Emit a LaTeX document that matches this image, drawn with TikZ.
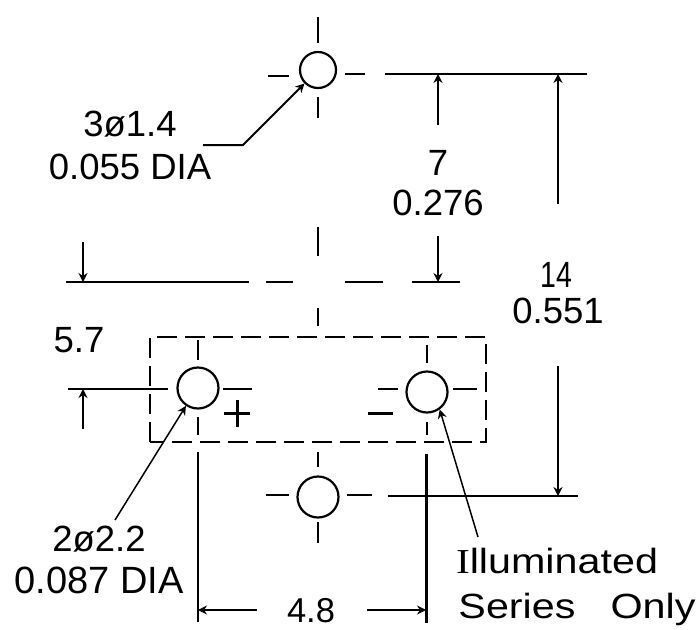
\documentclass[tikz,border=0pt]{standalone}
\usepackage{fontspec}
\setmainfont{Liberation Sans}
\newfontfamily\noteI{Liberation Serif}
\usetikzlibrary{arrows.meta}
\tikzset{
	hole/.style={draw,circle,line width=2.2pt,inner sep=0pt,minimum size=#1},
	label/.style={inner sep=0pt,font=\fontsize{#1}{#1}\selectfont},
	label/.default=36.5,
	note/.style={label=35,xscale=1.18,anchor=base},
	cen/.style={line width=2pt},
	dim/.style={line width=1.5pt,->},
}
\begin{document}
\begin{tikzpicture}[>={Stealth[length=9pt,width=9pt]},x=1pt,y=-1pt]
		\useasboundingbox (0,0) rectangle (698,629);
		% holes
		\node[hole=36pt] (holeTop) at (318,70) {};
		\node[hole=41pt] (holeLeft) at (198,388) {};
		\node[hole=41pt] (holeRight) at (427,392) {};
		\node[hole=41pt] (holeBottom) at (318,497) {};
		% centre marks
		\draw[cen] (318,17)--(318,43) (318,97)--(318,118) (268,76)--(289,76) (345,74)--(365,74);
		\draw[cen] (318,227)--(318,256) (318,308)--(318,326);
		\draw[cen] (198,340)--(198,360) (198,417)--(198,435) (223,389)--(252,389);
		\draw[cen] (427,345)--(427,363) (427,422)--(427,435) (378,389)--(398,389) (453,389)--(477,389);
		\draw[cen] (318,452)--(318,467) (318,522)--(318,543) (266,495)--(289,495) (347,495)--(372,495);
		% outline
		\draw[line width=2.4pt,dash pattern=on 20pt off 8pt] (150,442) -- (150,337) -- (486,337) -- (486,442) -- cycle;
		% extension lines
		\draw[cen] (385,74)--(587,74);
		\draw[cen] (66,282)--(249,282) (266,282)--(293,282) (345,282)--(383,282) (412,282)--(460,282);
		\draw[cen] (68,389)--(168,389);
		\draw[cen] (388,496)--(578,496);
		\draw[cen] (198,452)--(198,622);
		\draw[line width=3pt] (426,454)--(426,623);
		% dimensions
		\draw[dim] (83,242)--(83,282);
		\draw[dim] (83,429)--(83,389);
		\draw[dim] (438,125)--(438,74);
		\draw[dim] (438,236)--(438,282);
		\draw[dim] (558,204)--(558,74);
		\draw[dim] (558,366)--(558,496);
		\draw[dim] (257,610)--(198,610);
		\draw[dim] (367,610)--(426,610);
		% leaders
		\coordinate (elbowTop) at (243,145);
		\coordinate (tailTop) at (203,145);
		\coordinate (tailLeft) at (115,520);
		\coordinate (tailRight) at (478,537);
		\draw[line width=2pt,->] (tailTop) -- (elbowTop) -- (holeTop.south west);
		\draw[dim] (tailLeft) -- (holeLeft.236);
		\draw[dim] (tailRight) -- (holeRight.-54);
		% polarity
		\draw[line width=3pt] (224,413)--(250,413) (237,400)--(237,427);
		\draw[line width=3pt] (368,413)--(393,413);
		% text
		\node[label] (diaTop) at (130,124) {3ø1.4};
		\node[label] (diaTopIn) at (130,167) {0.055 DIA};
		\node[label] (sevenMm) at (438,163) {7};
		\node[label] (sevenIn) at (438,203) {0.276};
		\node[label,xscale=.78] (fourteenMm) at (556,275) {14};
		\node[label] (fourteenIn) at (558,311) {0.551};
		\node[label] (offsetMm) at (79,340) {5.7};
		\node[label] (diaLeft) at (99,539) {2ø2.2};
		\node[label=38] (diaLeftIn) at (99,580) {0.087 DIA};
		\node[label=34.5] (spanMm) at (311,611) {4.8};
		\node[note] (noteTop) at (557,573) {{\noteI I}lluminated};
		\node[note] (noteLeft) at (517,618) {Series};
		\node[note] (noteRight) at (653,618) {Only};
		\end{tikzpicture}
\end{document}
